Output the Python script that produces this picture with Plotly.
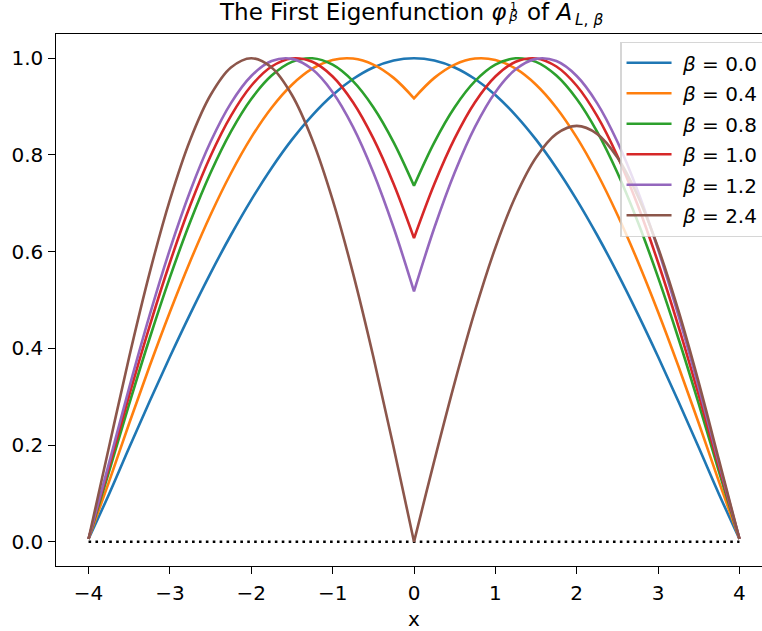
import plotly.graph_objects as go

# ---- data ----
x_smooth = [-4.0, -3.75, -3.5, -3.25, -3.0, -2.75, -2.5, -2.25, -2.0, -1.75, -1.5, -1.25, -1.0, -0.75, -0.5, -0.25,
            0.0,
            0.25, 0.5, 0.75, 1.0, 1.25, 1.5, 1.75, 2.0, 2.25, 2.5, 2.75, 3.0, 3.25, 3.5, 3.75, 4.0]
# the kinked curves repeat x = 0 so the corner there stays sharp
x_kink = [-4.0, -3.75, -3.5, -3.25, -3.0, -2.75, -2.5, -2.25, -2.0, -1.75, -1.5, -1.25, -1.0, -0.75, -0.5, -0.25,
          0.0, 0.0,
          0.25, 0.5, 0.75, 1.0, 1.25, 1.5, 1.75, 2.0, 2.25, 2.5, 2.75, 3.0, 3.25, 3.5, 3.75, 4.0]

beta_labels = ["0.0", "0.4", "0.8", "1.0", "1.2", "2.4"]

phi_b00 = [0.006, 0.0980, 0.1951, 0.2903, 0.3827, 0.4714, 0.5556, 0.6344, 0.7071, 0.7730, 0.8315, 0.8819, 0.9239,
           0.9569, 0.9808, 0.9952,
           1.0,
           0.9952, 0.9808, 0.9569, 0.9239, 0.8819, 0.8315, 0.7730, 0.7071, 0.6344, 0.5556, 0.4714, 0.3827, 0.2903,
           0.1951, 0.0980, 0.006]
phi_b04 = [0.006, 0.1235, 0.2451, 0.3629, 0.4752, 0.5802, 0.6763, 0.7621, 0.8362, 0.8976, 0.9451, 0.9782, 0.9964,
           0.9993, 0.9868, 0.9593, 0.9171,
           0.9171, 0.9593, 0.9868, 0.9993, 0.9964, 0.9782, 0.9451, 0.8976, 0.8362, 0.7621, 0.6763, 0.5802, 0.4752,
           0.3629, 0.2451, 0.1235, 0.006]
phi_b08 = [0.006, 0.1441, 0.2853, 0.4204, 0.5468, 0.6617, 0.7630, 0.8481, 0.9156, 0.9640, 0.9923, 0.9998, 0.9865,
           0.9525, 0.8987, 0.8261, 0.7363,
           0.7363, 0.8261, 0.8987, 0.9525, 0.9865, 0.9998, 0.9923, 0.9640, 0.9156, 0.8481, 0.7630, 0.6617, 0.5468,
           0.4204, 0.2853, 0.1441, 0.006]
phi_b10 = [0.006, 0.1533, 0.3031, 0.4456, 0.5775, 0.6958, 0.7978, 0.8808, 0.9430, 0.9828, 0.9995, 0.9925, 0.9621,
           0.9089, 0.8341, 0.7398, 0.6279,
           0.6279, 0.7398, 0.8341, 0.9089, 0.9621, 0.9925, 0.9995, 0.9828, 0.9430, 0.8808, 0.7978, 0.6958, 0.5775,
           0.4456, 0.3031, 0.1533, 0.006]
phi_b12 = [0.006, 0.1616, 0.3190, 0.4680, 0.6046, 0.7254, 0.8271, 0.9071, 0.9632, 0.9940, 0.9986, 0.9770, 0.9297,
           0.8580, 0.7637, 0.6493, 0.5179,
           0.5179, 0.6493, 0.7637, 0.8580, 0.9297, 0.9770, 0.9986, 0.9940, 0.9632, 0.9071, 0.8271, 0.7254, 0.6046,
           0.4680, 0.3190, 0.1616, 0.006]
phi_b24 = [0.006, 0.1951, 0.3827, 0.5556, 0.7071, 0.8315, 0.9239, 0.9808, 1.0, 0.9808, 0.9239, 0.8315, 0.7071,
           0.5556, 0.3827, 0.1951, 0.0,
           0.0, 0.1678, 0.3291, 0.4778, 0.6081, 0.7151, 0.7946, 0.8435, 0.8600, 0.8435, 0.7946, 0.7151, 0.6081,
           0.4778, 0.3291, 0.1678, 0.006]

baseline_x = [-4.0, 4.0]
baseline_y = [0.0, 0.0]

colors = ["#1f77b4", "#ff7f0e", "#2ca02c", "#d62728", "#9467bd", "#8c564b"]
series = [(x_smooth, phi_b00), (x_kink, phi_b04), (x_kink, phi_b08),
          (x_kink, phi_b10), (x_kink, phi_b12), (x_kink, phi_b24)]

FONT = "DejaVu Sans"
TICK_SIZE = 20
TITLE_SIZE = 23

FIG_W, FIG_H = 776, 631
M_L, M_T = 56, 34
PLOT_W, PLOT_H = 715.7, 532.5
M_R = FIG_W - M_L - PLOT_W
M_B = FIG_H - M_T - PLOT_H


def px(xw):
    return (xw - M_L) / PLOT_W


def py(yw):
    return (M_T + PLOT_H - yw) / PLOT_H


fig = go.Figure()

fig.add_trace(go.Scatter(x=baseline_x, y=baseline_y, mode="lines", showlegend=False,
                         line=dict(color="black", width=2.6, dash="2.6px,4.3px"), hoverinfo="skip"))

for i, ((xs, ys), lab) in enumerate(zip(series, beta_labels)):
    fig.add_trace(go.Scatter(
        x=xs, y=ys, mode="lines", name=" <i>β</i> = " + lab, legendgroup="g%d" % i,
        line=dict(color=colors[i], width=2.6, shape="spline", smoothing=1, simplify=False),
    ))

axis_common = dict(
    showgrid=False, zeroline=False, showline=True, linecolor="black", linewidth=1.4,
    ticks="outside", ticklen=6.5, tickwidth=1.4, tickcolor="black",
    tickfont=dict(family=FONT, size=TICK_SIZE, color="black"),
)

# title pieces: main text, stacked super/sub script on phi (one two-line text), then "of A" with its subscript
title_parts = [
    dict(text="The First Eigenfunction <i>φ</i>", size=TITLE_SIZE, x=506.5, y=12.0, xanchor="right"),
    dict(text="<span style='font-size:11px'>1</span><br><span style='font-size:14px'><i>β</i></span>",
         size=8.4, x=512.5, y=12.35, xanchor="center"),
    dict(text="of <i>A</i>", size=TITLE_SIZE, x=527, y=12.0, xanchor="left"),
    dict(text="<i>L</i>, <i>β</i>", size=15.4, x=575, y=19.7, xanchor="left"),
]
annotations = [
    dict(text=p["text"], x=px(p["x"]), y=py(p["y"]), xref="paper", yref="paper",
         xanchor=p["xanchor"], yanchor="middle", showarrow=False, align="center",
         font=dict(family=FONT, size=p["size"], color="black"), borderpad=0, borderwidth=0)
    for p in title_parts
]

fig.update_layout(
    width=FIG_W, height=FIG_H,
    margin=dict(l=M_L, r=M_R, t=M_T, b=M_B, autoexpand=False),
    paper_bgcolor="white", plot_bgcolor="white",
    font=dict(family=FONT, size=TICK_SIZE, color="black"),
    annotations=annotations,
    xaxis=dict(range=[-4.4, 4.4], tickvals=[-4, -3, -2, -1, 0, 1, 2, 3, 4],
               ticktext=["−4", "−3", "−2", "−1", "0", "1", "2", "3", "4"],
               mirror=True, ticklabelstandoff=2,
               title=dict(text="x", font=dict(family=FONT, size=TICK_SIZE), standoff=10.5),
               **axis_common),
    yaxis=dict(range=[-0.05, 1.05], tickvals=[0, 0.2, 0.4, 0.6, 0.8, 1.0], tickformat=".1f",
               ticklabelstandoff=1,
               **axis_common),
    legend=dict(
        x=px(620), y=py(42), xanchor="left", yanchor="top",
        bgcolor="rgba(255,255,255,0.8)", bordercolor="rgba(204,204,204,0.8)", borderwidth=1.3,
        font=dict(family=FONT, size=TICK_SIZE, color="black"),
        tracegroupgap=1.5, itemwidth=45,
    ),
)

fig.write_html("out.html", config={"displayModeBar": False},
               post_script="document.body.style.margin='0px';document.body.style.overflow='hidden';")
